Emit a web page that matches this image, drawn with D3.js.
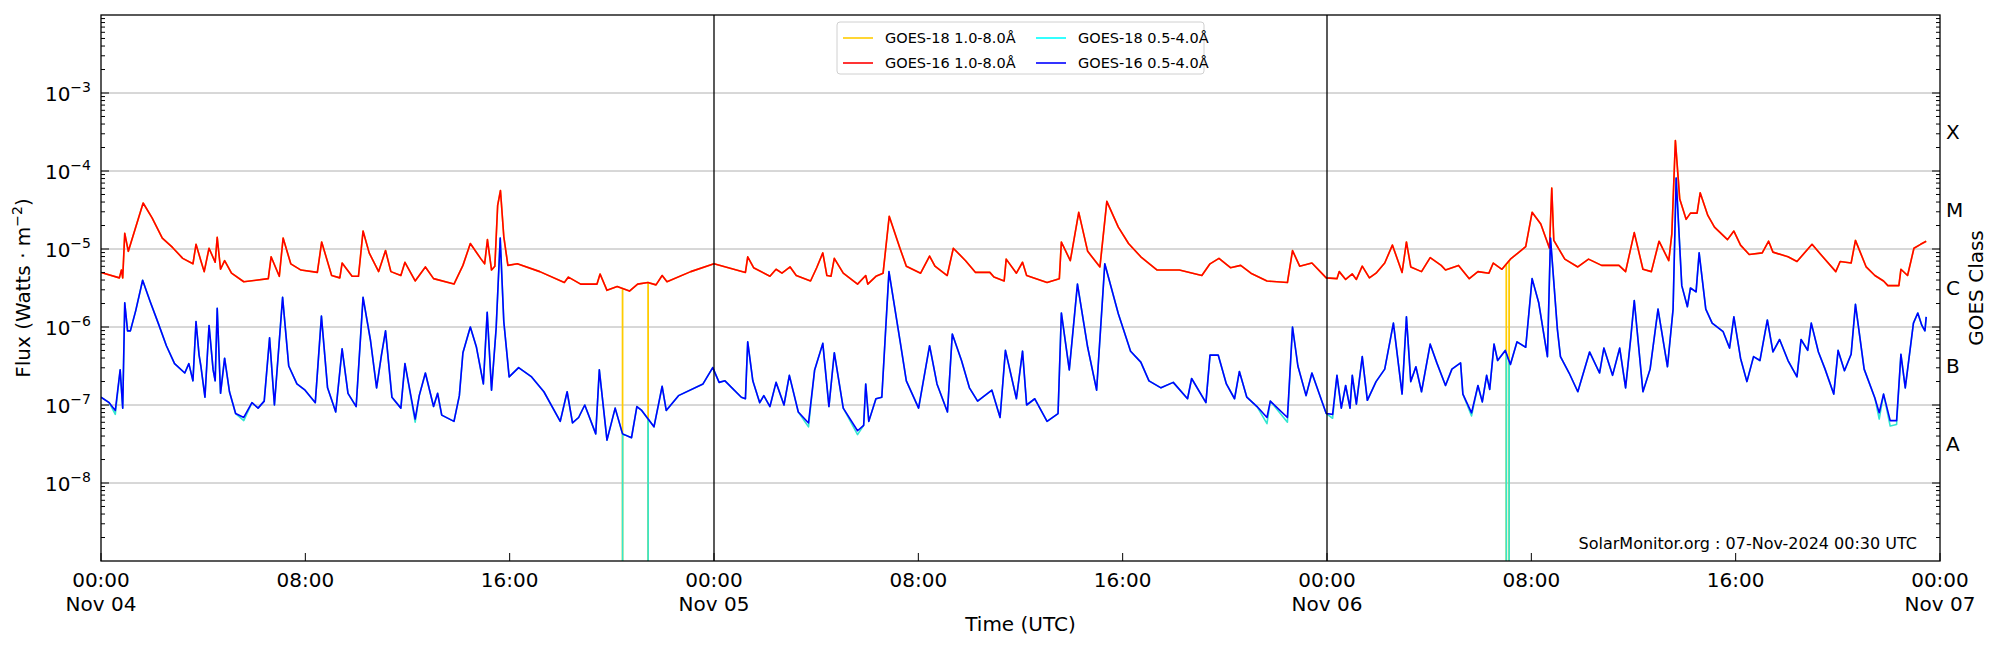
<!DOCTYPE html>
<html>
<head>
<meta charset="utf-8">
<script src="https://cdn.jsdelivr.net/npm/d3@7"></script>
<style>
body { margin: 0; background: #fff; }
text { font-family: "DejaVu Sans", sans-serif; }
</style>
</head>
<body>
<div id="mainDiv"></div>
<script>
'use strict';

var myApp = {};

// hours since 2024-11-04 00:00 UTC, log10 flux (W/m^2)
myApp.longTimes = [0,0.72,0.8,0.85,0.93,1.07,1.65,2.0,2.4,2.8,3.2,3.6,3.72,3.91,4.04,4.23,4.47,4.55,4.68,4.84,5.11,5.59,6.55,6.66,6.98,7.13,7.43,7.83,8.47,8.64,9.03,9.35,9.44,9.83,10.08,10.26,10.5,10.87,11.14,11.35,11.74,11.9,12.3,12.7,13.02,13.82,14.17,14.46,14.86,15.02,15.13,15.29,15.42,15.53,15.64,15.77,15.93,16.3,17.18,18.14,18.3,18.78,19.42,19.54,19.81,20.21,20.69,21.01,21.41,21.73,21.97,22.16,23.09,24.0,
  25.23,25.32,25.55,26.19,26.43,26.66,26.98,27.22,27.78,28.02,28.26,28.42,28.58,28.71,29.06,29.62,29.94,30.02,30.34,30.62,30.86,31.29,31.53,32.09,32.44,32.65,33.13,33.37,33.85,34.24,34.8,34.96,35.36,35.44,35.84,36.08,36.24,37.04,37.52,37.6,37.95,38.28,38.63,39.11,39.38,39.83,40.23,40.71,41.35,42.22,43.1,43.42,43.77,44.22,44.62,45.02,45.65,46.45,46.65,46.93,47.41,47.97,
  48.39,48.48,48.73,48.99,49.15,49.38,49.66,49.92,50.26,50.56,50.94,51.11,51.28,51.7,52.04,52.47,52.64,53.15,53.57,53.91,54.34,54.51,54.85,55.18,55.52,55.78,56.03,56.37,56.71,56.8,56.88,57.31,57.82,58.24,58.75,59.43,59.69,60.03,60.37,60.7,61.0,61.38,61.5,61.64,61.81,62.06,62.23,62.49,62.61,62.91,63.17,63.68,63.93,64.19,64.53,65.04,65.29,65.46,66.05,66.4,66.99,67.41,67.92,68.09,68.52,68.69,69.11,69.45,69.79,69.96,70.39,70.47,70.73,70.98,71.24,71.46];
myApp.longLog = [-5.30,-5.37,-5.27,-5.37,-4.80,-5.03,-4.41,-4.60,-4.86,-4.98,-5.12,-5.19,-4.94,-5.15,-5.29,-4.99,-5.17,-4.85,-5.26,-5.15,-5.31,-5.42,-5.38,-5.10,-5.35,-4.86,-5.19,-5.27,-5.30,-4.91,-5.34,-5.37,-5.18,-5.35,-5.35,-4.77,-5.05,-5.29,-5.02,-5.29,-5.34,-5.17,-5.41,-5.23,-5.38,-5.45,-5.21,-4.93,-5.12,-5.19,-4.88,-5.27,-5.22,-4.44,-4.25,-4.84,-5.21,-5.19,-5.29,-5.43,-5.36,-5.45,-5.45,-5.32,-5.53,-5.48,-5.54,-5.45,-5.43,-5.46,-5.34,-5.42,-5.29,-5.19,
  -5.30,-5.10,-5.24,-5.35,-5.26,-5.31,-5.23,-5.34,-5.41,-5.24,-5.05,-5.34,-5.35,-5.12,-5.31,-5.45,-5.34,-5.45,-5.35,-5.31,-4.58,-5.00,-5.22,-5.31,-5.09,-5.22,-5.34,-4.99,-5.15,-5.30,-5.30,-5.36,-5.41,-5.13,-5.31,-5.17,-5.34,-5.43,-5.38,-4.91,-5.15,-4.53,-5.03,-5.23,-4.39,-4.72,-4.93,-5.10,-5.27,-5.27,-5.34,-5.19,-5.12,-5.24,-5.21,-5.31,-5.41,-5.43,-5.02,-5.22,-5.18,-5.37,
  -5.38,-5.29,-5.39,-5.32,-5.39,-5.22,-5.37,-5.31,-5.18,-4.95,-5.30,-4.91,-5.23,-5.29,-5.11,-5.21,-5.27,-5.21,-5.38,-5.29,-5.31,-5.18,-5.26,-5.13,-5.04,-4.97,-4.53,-4.68,-4.99,-4.22,-4.89,-5.13,-5.23,-5.13,-5.21,-5.21,-5.29,-4.79,-5.26,-5.29,-4.90,-5.15,-4.81,-3.61,-4.36,-4.62,-4.54,-4.54,-4.28,-4.57,-4.72,-4.88,-4.77,-4.95,-5.07,-5.05,-4.90,-5.04,-5.10,-5.16,-4.94,-5.10,-5.29,-5.16,-5.18,-4.89,-5.23,-5.34,-5.41,-5.47,-5.47,-5.26,-5.34,-4.99,-4.94,-4.90];

myApp.shortTimes = [0,0.32,0.56,0.75,0.85,0.93,1.04,1.15,1.36,1.63,1.92,2.24,2.56,2.88,3.28,3.44,3.6,3.72,3.84,3.91,4.07,4.23,4.39,4.47,4.55,4.68,4.84,5.03,5.27,5.59,5.91,6.15,6.39,6.6,6.79,7.11,7.35,7.67,7.99,8.39,8.63,8.87,9.19,9.44,9.67,9.99,10.26,10.55,10.79,10.98,11.14,11.39,11.74,11.9,12.3,12.46,12.7,13.02,13.18,13.34,13.82,14.03,14.17,14.46,14.7,14.97,15.12,15.29,15.47,15.63,15.77,15.98,16.35,16.86,17.34,17.98,18.25,18.46,18.7,18.94,19.37,19.51,19.81,20.13,20.42,20.77,20.98,21.17,21.65,21.97,22.13,22.61,23.57,23.95,
  24.2,24.43,25.07,25.23,25.32,25.52,25.79,25.95,26.19,26.43,26.74,26.95,27.3,27.7,27.94,28.26,28.5,28.71,29.06,29.62,29.86,29.94,30.06,30.34,30.57,30.85,31.29,31.53,32.01,32.44,32.73,33.14,33.33,33.69,34.0,34.32,34.88,35.2,35.41,35.84,36.08,36.24,36.56,37.04,37.47,37.6,37.91,38.23,38.63,38.98,39.3,39.83,40.31,40.71,41.03,41.5,41.98,42.54,42.7,43.26,43.42,43.74,44.06,44.38,44.57,44.86,45.26,45.65,45.78,46.45,46.65,46.86,47.18,47.41,47.82,47.97,
  48.22,48.39,48.56,48.73,48.9,48.99,49.15,49.38,49.58,49.92,50.26,50.6,50.94,51.11,51.28,51.48,51.7,52.04,52.3,52.64,52.89,53.23,53.32,53.66,53.91,54.08,54.25,54.37,54.54,54.68,54.98,55.18,55.44,55.78,56.03,56.29,56.63,56.75,57.02,57.14,57.48,57.82,58.28,58.67,58.84,59.18,59.46,59.69,59.89,60.03,60.37,60.65,60.96,61.33,61.55,61.67,61.89,62.11,62.23,62.45,62.57,62.83,63.08,63.51,63.76,63.93,64.19,64.44,64.7,64.95,65.24,65.46,65.72,66.05,66.4,66.56,66.82,66.96,67.24,67.5,67.84,68.01,68.26,68.52,68.69,69.03,69.45,69.62,69.79,70.05,70.3,70.47,70.64,70.96,71.13,71.29,71.41,71.46];
myApp.shortLog = [-6.90,-6.97,-7.07,-6.55,-7.04,-5.69,-6.05,-6.05,-5.79,-5.40,-5.67,-5.95,-6.24,-6.47,-6.59,-6.47,-6.69,-5.93,-6.36,-6.50,-6.90,-5.98,-6.55,-6.69,-5.76,-6.85,-6.40,-6.83,-7.11,-7.16,-6.97,-7.04,-6.95,-6.14,-7.00,-5.62,-6.50,-6.73,-6.81,-6.97,-5.86,-6.78,-7.09,-6.28,-6.85,-7.02,-5.62,-6.17,-6.78,-6.36,-6.05,-6.90,-7.04,-6.47,-7.18,-6.88,-6.59,-7.02,-6.85,-7.13,-7.21,-6.88,-6.33,-6.00,-6.26,-6.73,-5.81,-6.81,-6.02,-4.86,-5.93,-6.64,-6.52,-6.64,-6.83,-7.21,-6.83,-7.23,-7.16,-7.00,-7.37,-6.55,-7.45,-7.04,-7.37,-7.42,-7.02,-7.07,-7.28,-6.76,-7.07,-6.88,-6.73,-6.52,
  -6.71,-6.69,-6.90,-6.92,-6.19,-6.69,-6.97,-6.88,-7.02,-6.71,-7.00,-6.62,-7.09,-7.23,-6.55,-6.21,-7.02,-6.33,-7.04,-7.33,-7.26,-6.73,-7.21,-6.92,-6.90,-5.29,-6.19,-6.69,-7.04,-6.24,-6.73,-7.09,-6.09,-6.43,-6.78,-6.95,-6.81,-7.16,-6.30,-6.92,-6.31,-7.00,-6.92,-7.21,-7.11,-5.82,-6.55,-5.45,-6.26,-6.81,-5.19,-5.83,-6.31,-6.45,-6.69,-6.78,-6.71,-6.92,-6.66,-6.97,-6.36,-6.36,-6.73,-6.92,-6.57,-6.90,-7.02,-7.16,-6.95,-7.16,-6.00,-6.50,-6.88,-6.59,-6.97,-7.11,
  -7.12,-6.62,-7.04,-6.75,-7.04,-6.62,-6.99,-6.38,-6.94,-6.70,-6.54,-5.95,-6.86,-5.87,-6.70,-6.51,-6.83,-6.22,-6.46,-6.75,-6.54,-6.46,-6.86,-7.10,-6.75,-6.96,-6.62,-6.80,-6.22,-6.43,-6.30,-6.48,-6.19,-6.26,-5.38,-5.69,-6.38,-4.86,-6.03,-6.38,-6.59,-6.83,-6.32,-6.59,-6.27,-6.62,-6.27,-6.78,-6.15,-5.66,-6.83,-6.54,-5.77,-6.51,-5.77,-4.09,-5.47,-5.74,-5.50,-5.55,-5.05,-5.77,-5.95,-6.06,-6.27,-5.87,-6.40,-6.70,-6.38,-6.43,-5.91,-6.32,-6.16,-6.43,-6.64,-6.16,-6.30,-5.95,-6.32,-6.54,-6.86,-6.30,-6.56,-6.35,-5.71,-6.54,-6.91,-7.10,-6.86,-7.20,-7.20,-6.35,-6.78,-5.95,-5.82,-5.98,-6.05,-5.87];

// GOES-18 data dropouts (hours)
myApp.g18Gaps = [20.42, 21.42, 55.02, 55.13];
// GOES-18 short channel sitting a little below GOES-16 in quiet spells
myApp.g18LowTimes = [0.56, 5.59, 12.3, 27.7, 29.62, 45.65, 46.45, 48.22, 53.66, 69.62, 70.05, 70.3];
myApp.g18LowLog = [-7.12, -7.2, -7.22, -7.28, -7.38, -7.24, -7.22, -7.17, -7.14, -7.18, -7.27, -7.25];

myApp.xTicks = [0, 8, 16, 24, 32, 40, 48, 56, 64, 72];
myApp.xTickLabels = ["00:00\nNov 04", "08:00", "16:00", "00:00\nNov 05", "08:00", "16:00", "00:00\nNov 06", "08:00", "16:00", "00:00\nNov 07"];
myApp.dayLines = [24, 48];
myApp.yDecades = [-9, -8, -7, -6, -5, -4, -3, -2];
myApp.classNames = ["A", "B", "C", "M", "X"];
myApp.classLog = [-7.5, -6.5, -5.5, -4.5, -3.5];

myApp.zip = function (ts, vs) {
    return ts.map(function (t, i) { return [t, Math.pow(10, vs[i])]; });
};

myApp.withGaps = function (pts, gaps, lowT, lowV) {
    var out = pts.map(function (p) { return p.slice(); });
    if (lowT) {
        lowT.forEach(function (t, i) {
            out.forEach(function (p) { if (p[0] === t) p[1] = Math.pow(10, lowV[i]); });
        });
    }
    var base = out.slice();
    gaps.forEach(function (g) {
        var j = d3.bisector(function (p) { return p[0]; }).left(base, g);
        var a = base[Math.max(j - 1, 0)], b = base[Math.min(j, base.length - 1)];
        var f = b[0] === a[0] ? 0 : (g - a[0]) / (b[0] - a[0]);
        var v = Math.pow(10, Math.log10(a[1]) + f * (Math.log10(b[1]) - Math.log10(a[1])));
        out.push([g - 0.004, v], [g, 1e-10], [g + 0.004, v]);
    });
    out.sort(function (a, b) { return a[0] - b[0]; });
    return out;
};

myApp.run = function () {
    var W = 2000, H = 650;
    var L = 101, R = 1940, T = 15, B = 561;
    var svg = d3.select("#mainDiv").append("svg").attr("width", W).attr("height", H);

    var x = d3.scaleLinear().domain([0, 72]).range([L, R]);
    var y = d3.scaleLog().domain([1e-9, 1e-2]).range([B, T]);

    // grid
    svg.append("g").selectAll("line").data(myApp.yDecades.slice(1, -1)).enter().append("line")
        .attr("x1", L).attr("x2", R)
        .attr("y1", function (d) { return y(Math.pow(10, d)); })
        .attr("y2", function (d) { return y(Math.pow(10, d)); })
        .attr("stroke", "#b0b0b0").attr("stroke-width", 1);

    svg.append("defs").append("clipPath").attr("id", "clip")
        .append("rect").attr("x", L).attr("y", T).attr("width", R - L).attr("height", B - T);

    var g16Long = myApp.zip(myApp.longTimes, myApp.longLog);
    var g16Short = myApp.zip(myApp.shortTimes, myApp.shortLog);
    var g18Long = myApp.withGaps(myApp.zip(myApp.longTimes, myApp.longLog), myApp.g18Gaps);
    var g18Short = myApp.withGaps(myApp.zip(myApp.shortTimes, myApp.shortLog), myApp.g18Gaps, myApp.g18LowTimes, myApp.g18LowLog);

    var line = d3.line().x(function (d) { return x(d[0]); }).y(function (d) { return y(Math.max(d[1], 1e-10)); });
    var plot = svg.append("g").attr("clip-path", "url(#clip)");
    var series = [[g18Long, "#ffcc00"], [g18Short, "#33e6d0"], [g16Long, "#ff0000"], [g16Short, "#0000ff"]];
    series.forEach(function (s) {
        plot.append("path").datum(s[0]).attr("d", line)
            .attr("fill", "none").attr("stroke", s[1]).attr("stroke-width", 1.6)
            .attr("stroke-linejoin", "round");
    });

    // day separators
    svg.append("g").selectAll("line").data(myApp.dayLines).enter().append("line")
        .attr("x1", function (d) { return x(d); }).attr("x2", function (d) { return x(d); })
        .attr("y1", T).attr("y2", B).attr("stroke", "#000").attr("stroke-width", 1.3);

    // frame
    svg.append("rect").attr("x", L).attr("y", T).attr("width", R - L).attr("height", B - T)
        .attr("fill", "none").attr("stroke", "#000").attr("stroke-width", 1.3);

    // y ticks (inward, both sides)
    var allTicks = y.ticks();
    var tk = svg.append("g").attr("stroke", "#000").attr("stroke-width", 1);
    allTicks.forEach(function (v) {
        var major = Math.abs(Math.log10(v) - Math.round(Math.log10(v))) < 1e-9;
        var len = major ? 8 : 4;
        var yy = y(v);
        if (yy < T + 0.5 || yy > B - 0.5) return;
        tk.append("line").attr("x1", L).attr("x2", L + len).attr("y1", yy).attr("y2", yy);
        tk.append("line").attr("x1", R).attr("x2", R - len).attr("y1", yy).attr("y2", yy);
    });
    myApp.yDecades.slice(1, -1).forEach(function (d) {
        var t = svg.append("text").attr("x", L - 10).attr("y", y(Math.pow(10, d)) + 8)
            .attr("text-anchor", "end").attr("font-size", 20);
        t.append("tspan").text("10");
        t.append("tspan").attr("dy", -9).attr("font-size", 14).text("\u2212" + Math.abs(d));
    });

    // class labels
    svg.append("g").selectAll("text").data(myApp.classNames).enter().append("text")
        .attr("x", R + 6).attr("y", function (d, i) { return y(Math.pow(10, myApp.classLog[i])) + 7; })
        .attr("font-size", 20).text(function (d) { return d; });

    // x ticks
    myApp.xTicks.forEach(function (t, i) {
        svg.append("line").attr("x1", x(t)).attr("x2", x(t)).attr("y1", B).attr("y2", B - 8)
            .attr("stroke", "#000");
        var parts = myApp.xTickLabels[i].split("\n");
        parts.forEach(function (p, j) {
            svg.append("text").attr("x", x(t)).attr("y", B + 26 + j * 24)
                .attr("text-anchor", "middle").attr("font-size", 20).text(p);
        });
    });

    svg.append("text").attr("x", (L + R) / 2).attr("y", 631).attr("text-anchor", "middle")
        .attr("font-size", 20).text("Time (UTC)");
    var yt = svg.append("text").attr("transform", "translate(30," + ((T + B) / 2) + ") rotate(-90)")
        .attr("text-anchor", "middle").attr("font-size", 20);
    yt.append("tspan").text("Flux (Watts \u00b7 m");
    yt.append("tspan").attr("dy", -8).attr("font-size", 14).text("\u22122");
    yt.append("tspan").attr("dy", 8).text(")");
    svg.append("text").attr("transform", "translate(1983," + ((T + B) / 2) + ") rotate(-90)")
        .attr("text-anchor", "middle").attr("font-size", 20).text("GOES Class");

    svg.append("text").attr("x", 1917).attr("y", 549).attr("text-anchor", "end")
        .attr("font-size", 16).text("SolarMonitor.org : 07-Nov-2024 00:30 UTC");

    // legend
    var lg = svg.append("g").attr("transform", "translate(837,22)");
    lg.append("rect").attr("width", 367).attr("height", 52).attr("rx", 3)
        .attr("fill", "#fff").attr("stroke", "#d0d0d0");
    var items = [["GOES-18 1.0-8.0\u00c5", "#ffcc00", 0, 0], ["GOES-18 0.5-4.0\u00c5", "#00ffff", 1, 0],
                 ["GOES-16 1.0-8.0\u00c5", "#ff0000", 0, 1], ["GOES-16 0.5-4.0\u00c5", "#0000ff", 1, 1]];
    items.forEach(function (it) {
        var ox = 6 + it[2] * 193, oy = 16 + it[3] * 25;
        lg.append("line").attr("x1", ox).attr("x2", ox + 30).attr("y1", oy).attr("y2", oy)
            .attr("stroke", it[1]).attr("stroke-width", 1.6);
        lg.append("text").attr("x", ox + 42).attr("y", oy + 5).attr("font-size", 14.5).text(it[0]);
    });
};

window.onload = myApp.run;
</script>
</body>
</html>
